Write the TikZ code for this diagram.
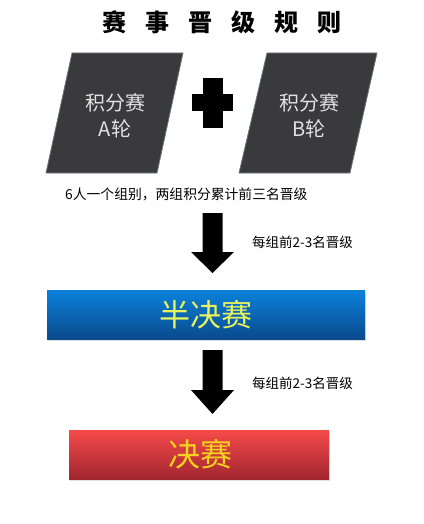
\documentclass[tikz,border=0pt]{standalone}
\usepackage{fontspec}
\newfontfamily\cjk{Noto Sans CJK SC}
\usetikzlibrary{shadows}
\definecolor{parafill}{HTML}{3A393B}
\definecolor{paraedge}{HTML}{6B7580}
\definecolor{paratext}{HTML}{E2E2E2}
\definecolor{semitop}{HTML}{0B82DC}
\definecolor{semibot}{HTML}{0A4A8C}
\definecolor{semitext}{HTML}{E8F25C}
\definecolor{fintop}{HTML}{F64A4A}
\definecolor{finbot}{HTML}{A22630}
\definecolor{fintext}{HTML}{F4D21E}
\begin{document}
\begin{tikzpicture}[x=1pt,y=-1pt,
  para/.style={fill=parafill,draw=paraedge,line width=0.8pt},
  paratxt/.style={text=paratext,font=\cjk\fontsize{20}{26}\selectfont,align=center,inner sep=0pt},
  blockarrow/.style={fill=black},
  note/.style={font=\cjk\fontsize{13.5}{14}\selectfont,inner sep=0pt,anchor=west},
  bar/.style={minimum width=#1,minimum height=49pt,inner sep=0pt,drop shadow={opacity=0.25,shadow xshift=1pt,shadow yshift=-1.5pt}},
]
\useasboundingbox (0,0) rectangle (423,524);
% title
\node[font=\cjk\bfseries\fontsize{24}{26}\selectfont,inner sep=0pt] (title) at (222,22) {赛\hspace{19pt}事\hspace{19pt}晋\hspace{19pt}级\hspace{19pt}规\hspace{19pt}则};
% parallelogram A
\coordinate (a1) at (72,53);
\coordinate (a2) at (183,53);
\coordinate (a3) at (157,173);
\coordinate (a4) at (46,173);
\filldraw[para] (a1) -- (a2) -- (a3) -- (a4) -- cycle;
\node[paratxt] (ta) at (115,116) {积分赛\\A轮};
% parallelogram B
\coordinate (b1) at (267,53);
\coordinate (b2) at (377,53);
\coordinate (b3) at (350,173);
\coordinate (b4) at (239,173);
\filldraw[para] (b1) -- (b2) -- (b3) -- (b4) -- cycle;
\node[paratxt] (tb) at (309,116) {积分赛\\B轮};
% plus
\node (plus) at (212.5,103) {};
\fill ([xshift=-10pt,yshift=-25pt]plus.center) rectangle ([xshift=10pt,yshift=25pt]plus.center);
\fill ([xshift=-20.5pt,yshift=-8.5pt]plus.center) rectangle ([xshift=20.5pt,yshift=8.5pt]plus.center);
% caption
\node[note,font=\cjk\fontsize{13.8}{14}\selectfont] (cap) at (65,194) {6人一个组别，两组积分累计前三名晋级};
% arrow 1
\coordinate (r1) at (212.5,213);
\fill[blockarrow] ([xshift=-10pt]r1) -- ([xshift=10pt]r1) -- ([xshift=10pt,yshift=-39pt]r1) -- ([xshift=21.5pt,yshift=-39pt]r1) -- ([yshift=-60pt]r1) -- ([xshift=-21.5pt,yshift=-39pt]r1) -- ([xshift=-10pt,yshift=-39pt]r1) -- cycle;
\node[note] (l1) at (252,242) {每组前2-3名晋级};
% semifinal
\node[bar=318pt,top color=semitop,bottom color=semibot] (semi) at (206,314.5) {};
\node[font=\cjk\fontsize{31}{32}\selectfont,text=semitext,inner sep=0pt] (semit) at (206,315) {半决赛};
% arrow 2
\coordinate (r2) at (212.5,350);
\fill[blockarrow] ([xshift=-10pt]r2) -- ([xshift=10pt]r2) -- ([xshift=10pt,yshift=-40pt]r2) -- ([xshift=21.5pt,yshift=-40pt]r2) -- ([yshift=-64pt]r2) -- ([xshift=-21.5pt,yshift=-40pt]r2) -- ([xshift=-10pt,yshift=-40pt]r2) -- cycle;
\node[note] (l2) at (252,383) {每组前2-3名晋级};
% final
\node[bar=260pt,top color=fintop,bottom color=finbot] (fin) at (199,454.5) {};
\node[font=\cjk\fontsize{32}{33}\selectfont,text=fintext,inner sep=0pt] (fint) at (200,454) {决赛};
\end{tikzpicture}
\end{document}
